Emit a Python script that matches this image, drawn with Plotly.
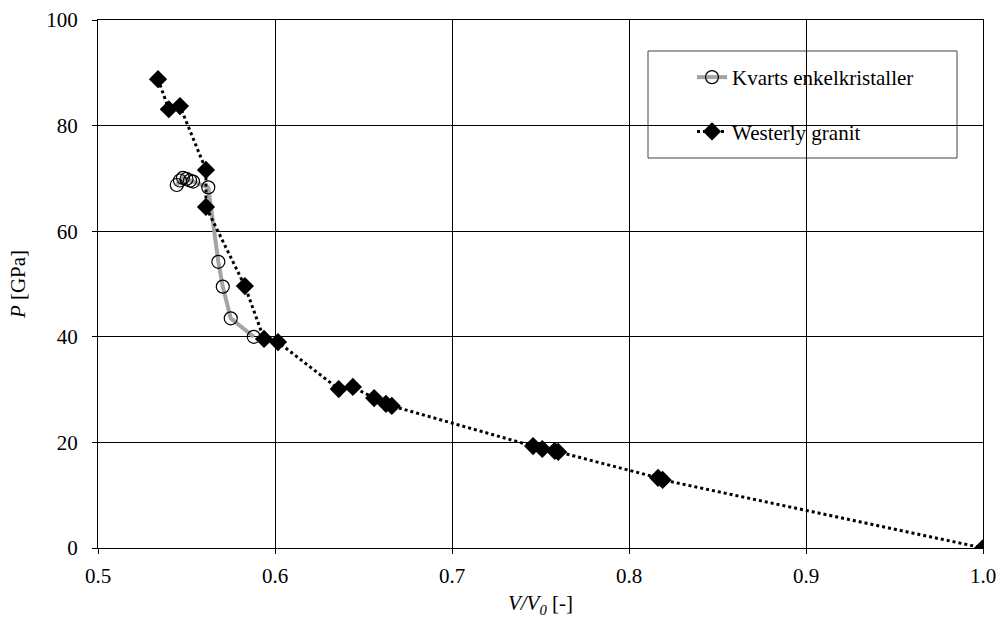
import plotly.graph_objects as go

# Kvarts enkelkristaller (open circles)
kv_x = [0.5445, 0.5463, 0.548, 0.550, 0.552, 0.5537, 0.5623, 0.568, 0.5705, 0.575, 0.588]
kv_y = [68.75, 69.6, 70.1, 69.9, 69.6, 69.4, 68.3, 54.2, 49.5, 43.5, 40.0]

# Westerly granit (diamonds)
wg_x = [0.5339, 0.540, 0.5463, 0.561, 0.561, 0.583, 0.5938, 0.6017, 0.636, 0.644,
        0.656, 0.6627, 0.666, 0.7458, 0.751, 0.758, 0.760, 0.8164, 0.819, 1.0]
wg_y = [88.8, 83.1, 83.7, 71.6, 64.6, 49.6, 39.6, 39.0, 30.1, 30.5,
        28.4, 27.3, 26.9, 19.3, 18.75, 18.4, 18.2, 13.3, 12.9, 0.0]

x_ticks = [0.5, 0.6, 0.7, 0.8, 0.9, 1.0]
x_labels = ["0.5", "0.6", "0.7", "0.8", "0.9", "1.0"]
y_ticks = [0, 20, 40, 60, 80, 100]

FONT = "Liberation Serif, Times New Roman, serif"
FS = 21

fig = go.Figure()
fig.add_trace(go.Scatter(
    x=kv_x, y=kv_y, mode="lines+markers", name="Kvarts enkelkristaller",
    legendgroup="a",
    line=dict(color="#a4a4a4", width=4),
    marker=dict(symbol="circle-open", size=13, color="black", line=dict(width=1.2, color="black")),
))
fig.add_trace(go.Scatter(
    x=wg_x, y=wg_y, mode="lines+markers", name="Westerly granit",
    legendgroup="b",
    line=dict(color="black", width=3, dash="dot"),
    marker=dict(symbol="diamond", size=14, color="black"),
))

fig.update_layout(
    width=1001, height=626,
    margin=dict(l=98, r=18, t=20, b=78),
    plot_bgcolor="white", paper_bgcolor="white",
    font=dict(family=FONT, size=FS, color="black"),
    showlegend=True,
    legend=dict(x=(692 - 98) / 885, y=0.93, xanchor="left", yanchor="top",
                bgcolor="rgba(0,0,0,0)", borderwidth=0,
                font=dict(family=FONT, size=FS, color="black"),
                tracegroupgap=24, traceorder="grouped"),
    shapes=[dict(type="rect", xref="paper", yref="paper",
                 x0=(648 - 98) / 885, x1=(957 - 98) / 885,
                 y0=(548 - 158) / 528, y1=(548 - 51) / 528,
                 line=dict(color="#444", width=1), fillcolor="white", layer="below")],
)
fig.update_xaxes(
    range=[0.5, 1.0], tickvals=x_ticks, ticktext=x_labels,
    showgrid=True, gridcolor="black", gridwidth=1,
    showline=True, linecolor="black", linewidth=1, mirror=True,
    ticks="outside", ticklen=5, tickcolor="black", ticklabelstandoff=4,
    ticklabeloverflow="allow",
    zeroline=False, automargin=False,
    title=dict(text="<i>V/V<sub>0</sub></i> [-]", font=dict(family=FONT, size=FS), standoff=8),
)
fig.update_yaxes(
    range=[0, 100], tickvals=y_ticks,
    showgrid=True, gridcolor="black", gridwidth=1,
    showline=True, linecolor="black", linewidth=1, mirror=True,
    ticks="outside", ticklen=5, tickcolor="black", ticklabelstandoff=10,
    ticklabeloverflow="allow",
    zeroline=False, automargin=False,
    title=dict(text="<i>P</i> [GPa]", font=dict(family=FONT, size=FS), standoff=14),
)

# remove the default 8px page margin so the 1001x626 figure fills the window exactly
fig.write_html("out.html", config={"displayModeBar": False},
               post_script="document.body.style.margin='0';")
